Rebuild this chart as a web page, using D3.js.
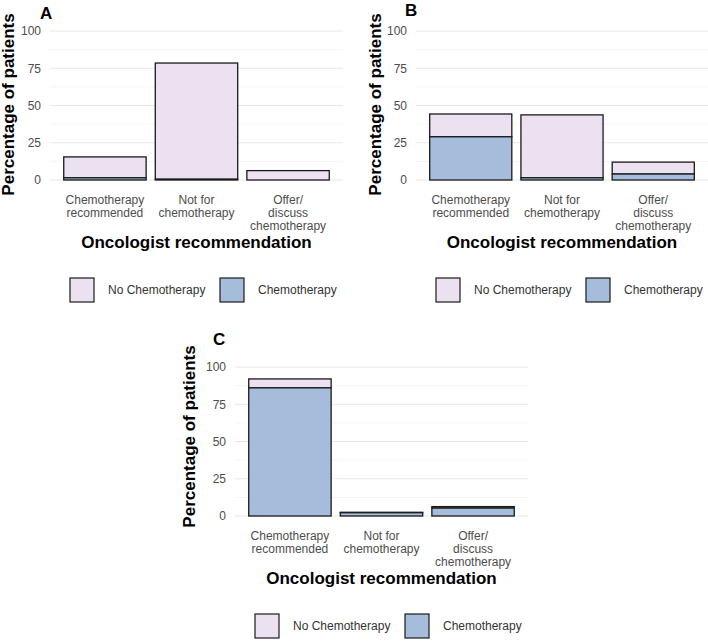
<!DOCTYPE html>
<html>
<head>
<meta charset="utf-8">
<script src="https://cdn.jsdelivr.net/npm/d3@7"></script>
<style>
  body { margin: 0; background: #fff; }
  text { font-family: "Liberation Sans", Arial, sans-serif; }
</style>
</head>
<body>
<div id="chart"></div>
<script>
// data
var categories = ["Chemotherapy\nrecommended", "Not for\nchemotherapy", "Offer/\ndiscuss\nchemotherapy"];
var seriesNames = ["No Chemotherapy", "Chemotherapy"];
var yTicks = [0, 25, 50, 75, 100];

var chemoA = [1.5, 0.5, 0];
var noChemoA = [14, 78, 6.3];
var chemoB = [29, 1.5, 4];
var noChemoB = [15.3, 42.2, 8];
var chemoC = [86, 2.2, 5.3];
var noChemoC = [6, 0.3, 1];

var pink = "#ebe1f0";
var blue = "#a5bcdb";
var edge = "#1a1a1a";

var svg = d3.select("#chart").append("svg")
  .attr("width", 708)
  .attr("height", 641);

function drawPanel(tag, left, right, top, bottom, chemo, noChemo, titleDx, titleDy, tagDx, tagDy) {
  var g = svg.append("g");
  var x = d3.scaleBand().domain(categories).range([left, right])
    .paddingInner(0.1).paddingOuter(0.15);
  var y = d3.scaleLinear().domain([0, 100]).range([bottom, top]);

  // minor + major grid
  var minor = [12.5, 37.5, 62.5, 87.5];
  g.selectAll(".minor").data(minor).enter().append("line")
    .attr("x1", left).attr("x2", right)
    .attr("y1", function(d) { return y(d); }).attr("y2", function(d) { return y(d); })
    .attr("stroke", "#f1f1f1").attr("stroke-width", 0.8);
  g.selectAll(".major").data(yTicks).enter().append("line")
    .attr("x1", left).attr("x2", right)
    .attr("y1", function(d) { return y(d); }).attr("y2", function(d) { return y(d); })
    .attr("stroke", "#e8e8e8").attr("stroke-width", 1);

  var rows = categories.map(function(c, i) {
    return { cat: c, chemo: chemo[i], total: chemo[i] + noChemo[i] };
  });

  // no chemo on top, chemo at the bottom
  g.selectAll(".top").data(rows).enter().append("rect")
    .attr("x", function(d) { return x(d.cat); })
    .attr("width", x.bandwidth())
    .attr("y", function(d) { return y(d.total); })
    .attr("height", function(d) { return y(d.chemo) - y(d.total); })
    .attr("fill", pink).attr("stroke", edge).attr("stroke-width", 1.3);
  g.selectAll(".bot").data(rows).enter().append("rect")
    .attr("x", function(d) { return x(d.cat); })
    .attr("width", x.bandwidth())
    .attr("y", function(d) { return y(d.chemo); })
    .attr("height", function(d) { return y(0) - y(d.chemo); })
    .attr("fill", blue).attr("stroke", edge).attr("stroke-width", 1.3);

  // y axis
  var ya = g.append("g").attr("transform", "translate(" + (left - 5) + ",0)")
    .call(d3.axisLeft(y).tickValues(yTicks).tickSize(0).tickPadding(4));
  ya.select(".domain").remove();
  ya.selectAll("text").attr("font-size", 12).attr("fill", "#4d4d4d")
    .style("font-family", "Liberation Sans, Arial, sans-serif");

  // x axis, multi-line labels
  var xa = g.append("g").attr("transform", "translate(0," + bottom + ")")
    .call(d3.axisBottom(x).tickSize(0));
  xa.select(".domain").remove();
  xa.selectAll("text").each(function(d) {
    var t = d3.select(this).text("").attr("y", 0).attr("dy", null)
      .attr("font-size", 12).attr("fill", "#4d4d4d")
      .style("font-family", "Liberation Sans, Arial, sans-serif");
    d.split("\n").forEach(function(line, i) {
      t.append("tspan").attr("x", 0).attr("y", 24 + i * 13).text(line);
    });
  });

  // titles
  g.append("text")
    .attr("x", (left + right) / 2).attr("y", bottom + 68)
    .attr("text-anchor", "middle").attr("font-size", 17).attr("font-weight", "bold")
    .text("Oncologist recommendation");
  g.append("text")
    .attr("transform", "translate(" + (left + titleDx) + "," + ((top + bottom) / 2 + titleDy) + ") rotate(-90)")
    .attr("text-anchor", "middle").attr("font-size", 17).attr("font-weight", "bold")
    .text("Percentage of patients");
  g.append("text")
    .attr("x", left + tagDx).attr("y", top + tagDy)
    .attr("font-size", 17).attr("font-weight", "bold")
    .text(tag);

  // legend
  var colors = [pink, blue];
  var boxX = [left + 20, left + 170];
  seriesNames.forEach(function(name, i) {
    g.append("rect").attr("x", boxX[i]).attr("y", bottom + 98)
      .attr("width", 24).attr("height", 24)
      .attr("fill", colors[i]).attr("stroke", edge).attr("stroke-width", 1.2);
    g.append("text").attr("x", boxX[i] + 38).attr("y", bottom + 114)
      .attr("font-size", 12).attr("fill", "#333").text(name);
  });
}

drawPanel("A", 50, 343, 31, 180, chemoA, noChemoA, -36, -1, -10, -12);
drawPanel("B", 416, 708, 31, 180, chemoB, noChemoB, -35, -1, -11, -15);
drawPanel("C", 235, 528, 367, 516, chemoC, noChemoC, -40, -5, -22, -22);
</script>
</body>
</html>
